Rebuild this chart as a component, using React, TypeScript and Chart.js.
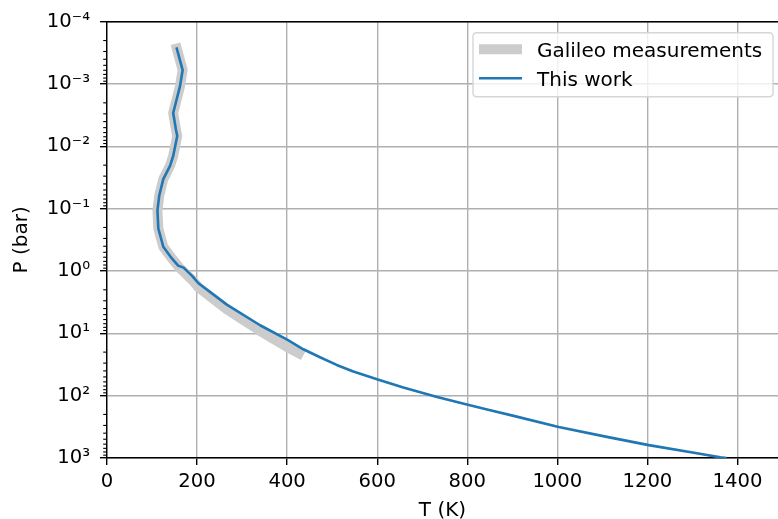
import React, { useEffect, useRef } from 'react';
import { Chart, registerables } from 'chart.js';

Chart.register(...registerables);

// ---- data ----
const galileoT = [155, 168, 162, 147, 153, 156, 147, 140, 125, 116, 112, 114, 125, 144, 160, 190, 203, 266, 340, 400, 426];
const galileoP = [2.69e-4, 5.96e-4, 1.09e-3, 2.91e-3, 5.36e-3, 6.82e-3, 1.42e-2, 2.05e-2, 3.35e-2, 6.15e-2, 0.106, 0.209, 0.408, 0.627, 0.87, 1.41, 1.82, 4.11, 9.12, 16.6, 20.9];

const modelT = [155, 168, 162, 147, 153, 156, 147, 140, 125, 116, 112, 114, 125, 144, 158, 170, 190, 203, 266, 340, 400, 436, 473, 510, 547, 603, 658, 733, 799, 851, 903, 1003, 1110, 1203, 1310, 1362, 1373];
const modelP = [2.69e-4, 5.96e-4, 1.09e-3, 2.91e-3, 5.36e-3, 6.82e-3, 1.42e-2, 2.05e-2, 3.35e-2, 6.15e-2, 0.106, 0.209, 0.408, 0.627, 0.818, 0.881, 1.22, 1.57, 3.46, 7.41, 12.6, 18.0, 24.2, 32.1, 40.9, 55.6, 73.8, 105, 139, 172, 211, 318, 458, 621, 841, 977, 1000];

const seriesLabels = ['Galileo measurements', 'This work'];
const xTickValues = [0, 200, 400, 600, 800, 1000, 1200, 1400];
const xTickLabels = ['0', '200', '400', '600', '800', '1000', '1200', '1400'];
const yTickValues = [1e-4, 1e-3, 1e-2, 1e-1, 1, 10, 100, 1000];
const yTickLabels = ['10\u207B\u2074', '10\u207B\u00B3', '10\u207B\u00B2', '10\u207B\u00B9', '10\u2070', '10\u00B9', '10\u00B2', '10\u00B3'];
const xTitle = 'T (K)';
const yTitle = 'P (bar)';

const FONT = 'DejaVu Sans';

const framePlugin = {
  id: 'frameAndLegend',
  afterDraw(chart: any) {
    const { ctx, chartArea: a, scales } = chart;
    const ys = scales.y;
    ctx.save();
    // top spine
    ctx.strokeStyle = '#000';
    ctx.lineWidth = 1.4;
    ctx.beginPath();
    ctx.moveTo(a.left - 0.7, a.top);
    ctx.lineTo(a.right, a.top);
    ctx.stroke();
    // minor log ticks
    ctx.lineWidth = 1.1;
    for (let e = -4; e < 3; e++) {
      for (let m = 2; m <= 9; m++) {
        const py = ys.getPixelForValue(m * Math.pow(10, e));
        ctx.beginPath();
        ctx.moveTo(a.left, py);
        ctx.lineTo(a.left - 3.8, py);
        ctx.stroke();
      }
    }
    // legend
    const ds = chart.data.datasets;
    const bw = 300, bh = 64;
    const bx = a.right - 305, by = a.top + 11;
    const r = 4;
    ctx.beginPath();
    ctx.moveTo(bx + r, by);
    ctx.lineTo(bx + bw - r, by);
    ctx.quadraticCurveTo(bx + bw, by, bx + bw, by + r);
    ctx.lineTo(bx + bw, by + bh - r);
    ctx.quadraticCurveTo(bx + bw, by + bh, bx + bw - r, by + bh);
    ctx.lineTo(bx + r, by + bh);
    ctx.quadraticCurveTo(bx, by + bh, bx, by + bh - r);
    ctx.lineTo(bx, by + r);
    ctx.quadraticCurveTo(bx, by, bx + r, by);
    ctx.closePath();
    ctx.fillStyle = 'rgba(255,255,255,0.8)';
    ctx.fill();
    ctx.strokeStyle = '#d6d6d6';
    ctx.lineWidth = 1.4;
    ctx.stroke();
    const rowsY = [by + 16.5, by + 45.5];
    ds.forEach((d: any, i: number) => {
      const ly = rowsY[i];
      ctx.beginPath();
      ctx.strokeStyle = d.borderColor;
      ctx.lineWidth = d.borderWidth;
      ctx.lineCap = 'square';
      ctx.moveTo(bx + 6 + d.borderWidth / 2, ly);
      ctx.lineTo(bx + 49 - d.borderWidth / 2, ly);
      ctx.stroke();
      ctx.fillStyle = '#000';
      ctx.font = `20px "${FONT}"`;
      ctx.textAlign = 'left';
      ctx.textBaseline = 'alphabetic';
      ctx.fillText(d.label, bx + 64, ly + 7.8);
    });
    ctx.restore();
  },
};

export default function App() {
  const ref = useRef<HTMLCanvasElement>(null);
  useEffect(() => {
    if (!ref.current) return;
    const chart = new Chart(ref.current, {
      type: 'line',
      data: {
        datasets: [
          {
            label: seriesLabels[0],
            data: galileoT.map((t, i) => ({ x: t, y: galileoP[i] })),
            borderColor: '#cccccc',
            borderWidth: 10,
            borderCapStyle: 'square',
            borderJoinStyle: 'round',
            pointRadius: 0,
            tension: 0,
            fill: false,
            order: 2,
          },
          {
            label: seriesLabels[1],
            data: modelT.map((t, i) => ({ x: t, y: modelP[i] })),
            borderColor: '#1f77b4',
            borderWidth: 2.6,
            borderCapStyle: 'square',
            borderJoinStyle: 'round',
            pointRadius: 0,
            tension: 0,
            fill: false,
            order: 1,
          },
        ],
      },
      options: {
        responsive: false,
        animation: false,
        events: [],
        layout: { padding: { left: 0, right: 0, top: 18, bottom: 0 } },
        plugins: { legend: { display: false }, tooltip: { enabled: false } },
        scales: {
          x: {
            type: 'linear',
            min: 0,
            max: 1490,
            afterBuildTicks: (s: any) => { s.ticks = xTickValues.map((v) => ({ value: v })); },
            afterFit: (s: any) => { s.height = 61; },
            ticks: {
              font: { family: FONT, size: 19.6 },
              color: '#000',
              padding: 5,
              maxRotation: 0,
              callback: (_v: any, i: number) => xTickLabels[i],
            },
            grid: { color: '#b0b0b0', lineWidth: 1.4, tickColor: '#000', tickLength: 7, tickWidth: 1.4 },
            border: { display: true, color: '#000', width: 1.4 },
            title: { display: true, text: xTitle, font: { family: FONT, size: 20 }, color: '#000', padding: { top: 0, bottom: -4 } },
          },
          y: {
            type: 'logarithmic',
            reverse: true,
            min: 1e-4,
            max: 1e3,
            afterBuildTicks: (s: any) => { s.ticks = yTickValues.map((v) => ({ value: v })); },
            afterFit: (s: any) => { s.width = 107; },
            ticks: {
              font: { family: FONT, size: 19.6 },
              color: '#000',
              padding: 10,
              callback: (_v: any, i: number) => yTickLabels[i],
            },
            grid: { color: '#b0b0b0', lineWidth: 1.4, tickColor: '#000', tickLength: 7, tickWidth: 1.4 },
            border: { display: true, color: '#000', width: 1.4 },
            title: { display: true, text: yTitle, font: { family: FONT, size: 20 }, color: '#000', padding: { top: 10, bottom: 0 } },
          },
        },
      },
      plugins: [framePlugin],
    } as any);
    return () => chart.destroy();
  }, []);
  return (
    <div style={{ position: 'absolute', left: 0, top: 0, width: 778, height: 519, overflow: 'hidden', background: '#fff' }}>
      <canvas ref={ref} width={778} height={519} style={{ display: 'block' }} />
    </div>
  );
}
